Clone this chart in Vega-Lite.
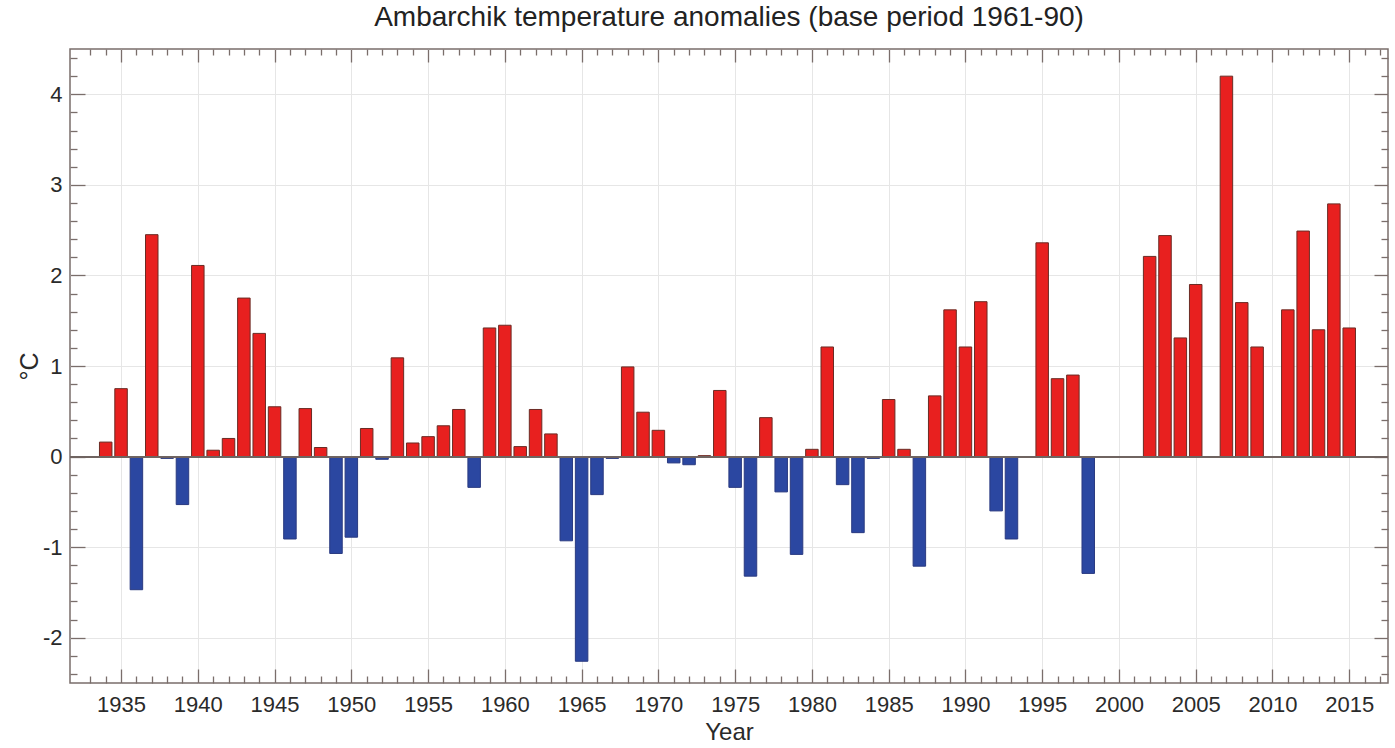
{
  "$schema": "https://vega.github.io/schema/vega-lite/v6.json",
  "autosize": {"type": "none"},
  "padding": {"left": 70, "top": 49, "right": 7, "bottom": 65},
  "width": 1318,
  "height": 634,
  "background": "white",
  "title": {
    "text": "Ambarchik temperature anomalies (base period 1961-90)",
    "fontSize": 28,
    "font": "Liberation Sans",
    "fontWeight": "normal",
    "color": "#222222",
    "anchor": "middle",
    "offset": 16
  },
  "config": {
    "view": {"stroke": "#7a6e6b", "strokeWidth": 1.5},
    "font": "Liberation Sans",
    "axis": {
      "domain": false,
      "labelFont": "Liberation Sans",
      "labelColor": "#2a2a2a",
      "titleFont": "Liberation Sans",
      "titleFontWeight": "normal",
      "titleColor": "#2a2a2a",
      "tickColor": "#7a6e6b",
      "tickWidth": 1.3,
      "gridColor": "#e6e6e6",
      "gridWidth": 1
    }
  },
  "data": {
    "values": [
      {"Year": 1934, "anomaly": 0.16},
      {"Year": 1935, "anomaly": 0.75},
      {"Year": 1936, "anomaly": -1.47},
      {"Year": 1937, "anomaly": 2.45},
      {"Year": 1938, "anomaly": -0.02},
      {"Year": 1939, "anomaly": -0.53},
      {"Year": 1940, "anomaly": 2.11},
      {"Year": 1941, "anomaly": 0.07},
      {"Year": 1942, "anomaly": 0.2},
      {"Year": 1943, "anomaly": 1.75},
      {"Year": 1944, "anomaly": 1.36},
      {"Year": 1945, "anomaly": 0.55},
      {"Year": 1946, "anomaly": -0.91},
      {"Year": 1947, "anomaly": 0.53},
      {"Year": 1948, "anomaly": 0.1},
      {"Year": 1949, "anomaly": -1.07},
      {"Year": 1950, "anomaly": -0.89},
      {"Year": 1951, "anomaly": 0.31},
      {"Year": 1952, "anomaly": -0.03},
      {"Year": 1953, "anomaly": 1.09},
      {"Year": 1954, "anomaly": 0.15},
      {"Year": 1955, "anomaly": 0.22},
      {"Year": 1956, "anomaly": 0.34},
      {"Year": 1957, "anomaly": 0.52},
      {"Year": 1958, "anomaly": -0.34},
      {"Year": 1959, "anomaly": 1.42},
      {"Year": 1960, "anomaly": 1.45},
      {"Year": 1961, "anomaly": 0.11},
      {"Year": 1962, "anomaly": 0.52},
      {"Year": 1963, "anomaly": 0.25},
      {"Year": 1964, "anomaly": -0.93},
      {"Year": 1965, "anomaly": -2.26},
      {"Year": 1966, "anomaly": -0.42},
      {"Year": 1967, "anomaly": -0.02},
      {"Year": 1968, "anomaly": 0.99},
      {"Year": 1969, "anomaly": 0.49},
      {"Year": 1970, "anomaly": 0.29},
      {"Year": 1971, "anomaly": -0.07},
      {"Year": 1972, "anomaly": -0.09},
      {"Year": 1973, "anomaly": 0.01},
      {"Year": 1974, "anomaly": 0.73},
      {"Year": 1975, "anomaly": -0.34},
      {"Year": 1976, "anomaly": -1.32},
      {"Year": 1977, "anomaly": 0.43},
      {"Year": 1978, "anomaly": -0.39},
      {"Year": 1979, "anomaly": -1.08},
      {"Year": 1980, "anomaly": 0.08},
      {"Year": 1981, "anomaly": 1.21},
      {"Year": 1982, "anomaly": -0.31},
      {"Year": 1983, "anomaly": -0.84},
      {"Year": 1984, "anomaly": -0.02},
      {"Year": 1985, "anomaly": 0.63},
      {"Year": 1986, "anomaly": 0.08},
      {"Year": 1987, "anomaly": -1.21},
      {"Year": 1988, "anomaly": 0.67},
      {"Year": 1989, "anomaly": 1.62},
      {"Year": 1990, "anomaly": 1.21},
      {"Year": 1991, "anomaly": 1.71},
      {"Year": 1992, "anomaly": -0.6},
      {"Year": 1993, "anomaly": -0.91},
      {"Year": 1995, "anomaly": 2.36},
      {"Year": 1996, "anomaly": 0.86},
      {"Year": 1997, "anomaly": 0.9},
      {"Year": 1998, "anomaly": -1.29},
      {"Year": 2002, "anomaly": 2.21},
      {"Year": 2003, "anomaly": 2.44},
      {"Year": 2004, "anomaly": 1.31},
      {"Year": 2005, "anomaly": 1.9},
      {"Year": 2007, "anomaly": 4.2},
      {"Year": 2008, "anomaly": 1.7},
      {"Year": 2009, "anomaly": 1.21},
      {"Year": 2011, "anomaly": 1.62},
      {"Year": 2012, "anomaly": 2.49},
      {"Year": 2013, "anomaly": 1.4},
      {"Year": 2014, "anomaly": 2.79},
      {"Year": 2015, "anomaly": 1.42}
    ]
  },
  "resolve": {"axis": {"x": "independent", "y": "independent"}},
  "layer": [
    {
      "mark": {"type": "bar", "width": 12.5, "strokeWidth": 1},
      "encoding": {
        "x": {
          "field": "Year",
          "type": "quantitative",
          "scale": {"domain": [1932, 2017.2], "nice": false, "zero": false},
          "axis": {
            "orient": "bottom",
            "title": "Year",
            "titleFontSize": 24,
            "titlePadding": 5,
            "titleBaseline": "top",
            "values": [1935, 1940, 1945, 1950, 1955, 1960, 1965, 1970, 1975, 1980, 1985, 1990, 1995, 2000, 2005, 2010, 2015],
            "format": "d",
            "labelFontSize": 22,
            "tickSize": -14,
            "labelPadding": 25,
            "grid": true
          }
        },
        "y": {
          "field": "anomaly",
          "type": "quantitative",
          "scale": {"domain": [-2.5, 4.5], "nice": false},
          "axis": {
            "orient": "left",
            "title": "°C",
            "titleFontSize": 25,
            "titlePadding": 0,
            "values": [-2, -1, 0, 1, 2, 3, 4],
            "labelExpr": "toString(datum.value)",
            "labelFontSize": 22,
            "tickSize": -15,
            "labelPadding": 23,
            "grid": true
          }
        },
        "color": {
          "condition": {"test": "datum.anomaly < 0", "value": "#2b47a1"},
          "value": "#e8201f"
        },
        "stroke": {
          "condition": {"test": "datum.anomaly < 0", "value": "#2a3a80"},
          "value": "#6a2b24"
        }
      }
    },
    {
      "mark": {"type": "rule", "color": "#6f6461", "strokeWidth": 1.2},
      "encoding": {
        "y": {"datum": 0, "type": "quantitative", "axis": null}
      }
    },
    {
      "mark": {"type": "point", "opacity": 0},
      "encoding": {
        "x": {
          "field": "Year",
          "type": "quantitative",
          "axis": {
            "orient": "top",
            "title": null,
            "values": [1935, 1940, 1945, 1950, 1955, 1960, 1965, 1970, 1975, 1980, 1985, 1990, 1995, 2000, 2005, 2010, 2015],
            "labels": false,
            "tickSize": -13,
            "grid": false
          }
        },
        "y": {
          "field": "anomaly",
          "type": "quantitative",
          "axis": {
            "orient": "right",
            "title": null,
            "values": [-2, -1, 0, 1, 2, 3, 4],
            "labels": false,
            "tickSize": -14,
            "grid": false
          }
        }
      }
    },
    {
      "mark": {"type": "point", "opacity": 0},
      "encoding": {
        "x": {
          "field": "Year",
          "type": "quantitative",
          "axis": {
            "orient": "bottom",
            "title": null,
            "values": [1933, 1934, 1936, 1937, 1938, 1939, 1941, 1942, 1943, 1944, 1946, 1947, 1948, 1949, 1951, 1952, 1953, 1954, 1956, 1957, 1958, 1959, 1961, 1962, 1963, 1964, 1966, 1967, 1968, 1969, 1971, 1972, 1973, 1974, 1976, 1977, 1978, 1979, 1981, 1982, 1983, 1984, 1986, 1987, 1988, 1989, 1991, 1992, 1993, 1994, 1996, 1997, 1998, 1999, 2001, 2002, 2003, 2004, 2006, 2007, 2008, 2009, 2011, 2012, 2013, 2014, 2016, 2017],
            "labels": false,
            "tickSize": -7,
            "grid": false
          }
        },
        "y": {
          "field": "anomaly",
          "type": "quantitative",
          "axis": {
            "orient": "left",
            "title": null,
            "values": [-2.4, -2.2, -1.8, -1.6, -1.4, -1.2, -0.8, -0.6, -0.4, -0.2, 0.2, 0.4, 0.6, 0.8, 1.2, 1.4, 1.6, 1.8, 2.2, 2.4, 2.6, 2.8, 3.2, 3.4, 3.6, 3.8, 4.2, 4.4],
            "labels": false,
            "tickSize": -7,
            "grid": false
          }
        }
      }
    },
    {
      "mark": {"type": "point", "opacity": 0},
      "encoding": {
        "x": {
          "field": "Year",
          "type": "quantitative",
          "axis": {
            "orient": "top",
            "title": null,
            "values": [1933, 1934, 1936, 1937, 1938, 1939, 1941, 1942, 1943, 1944, 1946, 1947, 1948, 1949, 1951, 1952, 1953, 1954, 1956, 1957, 1958, 1959, 1961, 1962, 1963, 1964, 1966, 1967, 1968, 1969, 1971, 1972, 1973, 1974, 1976, 1977, 1978, 1979, 1981, 1982, 1983, 1984, 1986, 1987, 1988, 1989, 1991, 1992, 1993, 1994, 1996, 1997, 1998, 1999, 2001, 2002, 2003, 2004, 2006, 2007, 2008, 2009, 2011, 2012, 2013, 2014, 2016, 2017],
            "labels": false,
            "tickSize": -6,
            "grid": false
          }
        },
        "y": {
          "field": "anomaly",
          "type": "quantitative",
          "axis": {
            "orient": "right",
            "title": null,
            "values": [-2.4, -2.2, -1.8, -1.6, -1.4, -1.2, -0.8, -0.6, -0.4, -0.2, 0.2, 0.4, 0.6, 0.8, 1.2, 1.4, 1.6, 1.8, 2.2, 2.4, 2.6, 2.8, 3.2, 3.4, 3.6, 3.8, 4.2, 4.4],
            "labels": false,
            "tickSize": -7,
            "grid": false
          }
        }
      }
    }
  ]
}
